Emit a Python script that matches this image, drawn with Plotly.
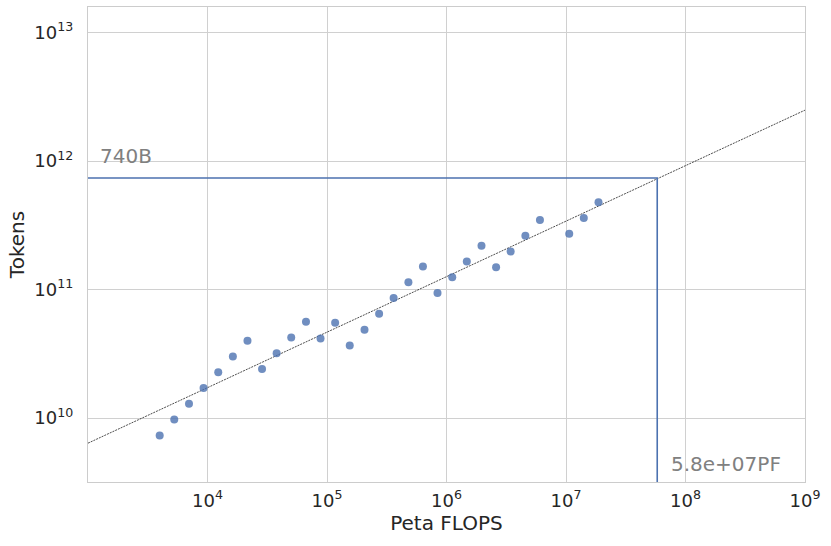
import numpy as np
import plotly.graph_objects as go

# compute budget (Peta FLOPS) and tokens
flops = [3980, 5270, 7000, 9270, 12300, 16300, 21600, 28600, 37900, 50200,
         66700, 88300, 117000, 155000, 206000, 273000, 361000, 480000, 635000, 841000,
         1.117e6, 1.479e6, 1.963e6, 2.600e6, 3.443e6, 4.571e6, 6.053e6,
         1.064e7, 1.409e7, 1.871e7]
tokens = [7.33e9, 9.77e9, 1.294e10, 1.714e10, 2.275e10, 3.013e10, 4.0e10, 2.415e10, 3.2e10, 4.246e10,
          5.62e10, 4.17e10, 5.52e10, 3.67e10, 4.875e10, 6.49e10, 8.61e10, 1.14e11, 1.514e11, 9.42e10,
          1.247e11, 1.656e11, 2.193e11, 1.493e11, 1.98e11, 2.624e11, 3.483e11,
          2.72e11, 3.606e11, 4.786e11]

# power-law fit  tokens = fit_coef * flops ** fit_exp
fit_coef = 3.23e8
fit_exp = 0.432

opt_flops = 5.8e7
opt_tokens = 7.4e11

x_min, x_max = 1e3, 1e9
y_min = 10 ** 9.503

xtick_vals = [1e4, 1e5, 1e6, 1e7, 1e8, 1e9]
xtick_text = ["10<sup>4</sup>", "10<sup>5</sup>", "10<sup>6</sup>", "10<sup>7</sup>",
              "10<sup>8</sup>", "10<sup>9</sup>"]
ytick_vals = [1e10, 1e11, 1e12, 1e13]
ytick_text = ["10<sup>10</sup>", "10<sup>11</sup>", "10<sup>12</sup>", "10<sup>13</sup>"]

blue = "#4c72b0"

fit_x = np.logspace(3, 9, 50)
fit_y = fit_coef * fit_x ** fit_exp

fig = go.Figure()

fig.add_trace(go.Scatter(
    x=fit_x, y=fit_y, mode="lines",
    line=dict(color="black", width=0.7, dash="2px,1px"),
    showlegend=False
))
fig.add_trace(go.Scatter(
    x=[x_min, opt_flops, opt_flops], y=[opt_tokens, opt_tokens, y_min],
    mode="lines", line=dict(color=blue, width=1.6),
    showlegend=False
))
fig.add_trace(go.Scatter(
    x=flops, y=tokens, mode="markers",
    marker=dict(color=blue, size=8, opacity=0.8, line_width=0),
    showlegend=False
))

fig.add_annotation(x=3.08, y=np.log10(opt_tokens) + 0.06, xref="x", yref="y",
                   text="740B", showarrow=False, xanchor="left", yanchor="bottom",
                   font=dict(size=20, color="gray"))
fig.add_annotation(x=7.86, y=9.641, xref="x", yref="y",
                   text="5.8e+07PF", showarrow=False, xanchor="left", yanchor="middle",
                   font=dict(size=20, color="gray"))

fig.update_layout(
    width=831, height=546,
    margin=dict(l=88, r=26, t=7, b=64),
    paper_bgcolor="white", plot_bgcolor="white",
    font=dict(family="DejaVu Sans", color="#262626"),
    xaxis=dict(
        type="log", range=[3, 9],
        tickvals=xtick_vals, ticktext=xtick_text,
        tickfont=dict(size=18), ticklabelstandoff=2,
        title=dict(text="Peta FLOPS", font=dict(size=20), standoff=4),
        showgrid=True, gridcolor="#d0d0d0", gridwidth=1,
        showline=True, linecolor="#cccccc", linewidth=1.2, mirror=True,
        zeroline=False, ticks=""
    ),
    yaxis=dict(
        type="log", range=[9.503, 13.2],
        tickvals=ytick_vals, ticktext=ytick_text,
        tickfont=dict(size=18), ticklabelstandoff=10,
        title=dict(text="Tokens", font=dict(size=20), standoff=4),
        showgrid=True, gridcolor="#d0d0d0", gridwidth=1,
        showline=True, linecolor="#cccccc", linewidth=1.2, mirror=True,
        zeroline=False, ticks=""
    )
)

fig.write_html("out.html", config={"displayModeBar": False},
               post_script="document.body.style.margin='0px';")
